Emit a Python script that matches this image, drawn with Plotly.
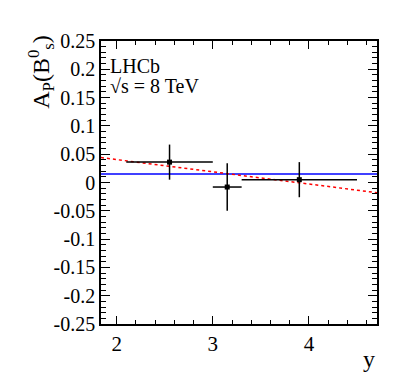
import plotly.graph_objects as go

# measured asymmetry in rapidity bins
y_centre = [2.55, 3.15, 3.90]
bin_lo = [2.10, 3.00, 3.30]
bin_hi = [3.00, 3.30, 4.50]
asym = [0.036, -0.008, 0.005]
asym_err = [0.031, 0.042, 0.031]

# fits: constant (blue) and linear (red dashed)
x_range = [1.837, 4.708]
const_fit = [0.015, 0.015]
lin_fit = [0.044, -0.018]

y_ticks = [-0.25, -0.2, -0.15, -0.1, -0.05, 0, 0.05, 0.1, 0.15, 0.2, 0.25]
y_ticktext = ["-0.25", "-0.2", "-0.15", "-0.1", "-0.05", "0", "0.05", "0.1", "0.15", "0.2", "0.25"]
x_ticks = [2, 3, 4]
x_ticktext = ["2", "3", "4"]

font = "Liberation Serif, Times New Roman, serif"

fig = go.Figure()
fig.add_trace(go.Scatter(x=x_range, y=const_fit, mode="lines",
                         line=dict(color="blue", width=1.5)))
fig.add_trace(go.Scatter(x=x_range, y=lin_fit, mode="lines",
                         line=dict(color="red", width=1.5, dash="dot")))
fig.add_trace(go.Scatter(
    x=y_centre, y=asym, mode="markers",
    marker=dict(color="black", size=5, symbol="square"),
    error_x=dict(type="data", symmetric=False,
                 array=[h - c for h, c in zip(bin_hi, y_centre)],
                 arrayminus=[c - l for c, l in zip(y_centre, bin_lo)],
                 color="black", thickness=1.5, width=0),
    error_y=dict(type="data", array=asym_err, color="black", thickness=1.5, width=0),
))
# invisible trace so the mirrored axes exist
fig.add_trace(go.Scatter(x=x_range, y=[0, 0], xaxis="x2", yaxis="y2",
                         mode="lines", line=dict(width=0), hoverinfo="skip"))

# page body has an 8px margin, so the figure is shrunk to fit
fig.update_layout(
    width=383, height=372,
    margin=dict(l=93, r=14, t=33, b=56),
    paper_bgcolor="white", plot_bgcolor="white",
    showlegend=False,
    font=dict(family=font, size=20, color="black"),
)

common = dict(showgrid=False, zeroline=False, showline=True, linecolor="black",
              linewidth=1.5, ticks="inside", tickwidth=1, tickcolor="black")

fig.update_layout(
    xaxis=dict(range=x_range, tickvals=x_ticks, ticktext=x_ticktext, ticklen=8,
               tickfont=dict(family=font, size=21),
               minor=dict(dtick=0.2, tick0=0, ticks="inside", ticklen=4,
                          tickcolor="black", showgrid=False), **common),
    yaxis=dict(range=[-0.25, 0.25], tickvals=y_ticks, ticktext=y_ticktext, ticklen=9,
               tickfont=dict(family=font, size=20),
               minor=dict(dtick=0.01, tick0=0, ticks="inside", ticklen=5,
                          tickcolor="black", showgrid=False), **common),
    xaxis2=dict(range=x_range, overlaying="x", side="top", tickvals=x_ticks,
                showticklabels=False, ticklen=8,
                minor=dict(dtick=0.2, tick0=0, ticks="inside", ticklen=4,
                           tickcolor="black", showgrid=False), **common),
    yaxis2=dict(range=[-0.25, 0.25], overlaying="y", side="right", tickvals=y_ticks,
                showticklabels=False, ticklen=9,
                minor=dict(dtick=0.01, tick0=0, ticks="inside", ticklen=5,
                           tickcolor="black", showgrid=False), **common),
)

fig.add_annotation(x=0.025, xref="paper", y=0.866, yref="paper",
                   xanchor="left", yanchor="bottom", showarrow=False,
                   text="LHCb", font=dict(family=font, size=20))
fig.add_annotation(x=0.025, xref="paper", y=0.795, yref="paper",
                   xanchor="left", yanchor="bottom", showarrow=False,
                   text="√s = 8 TeV", font=dict(family=font, size=20))
fig.add_annotation(x=-0.22, xref="paper", y=1.03, yref="paper",
                   xanchor="center", yanchor="top", showarrow=False,
                   textangle=-90,
                   text="A<sub>P</sub>(B<sup>0</sup><sub>s</sub>)",
                   font=dict(family=font, size=24))
fig.add_annotation(x=1.0, xref="paper", y=-0.07, yref="paper",
                   xanchor="right", yanchor="top", showarrow=False,
                   text="y", font=dict(family=font, size=24))

fig.write_html("out.html")
